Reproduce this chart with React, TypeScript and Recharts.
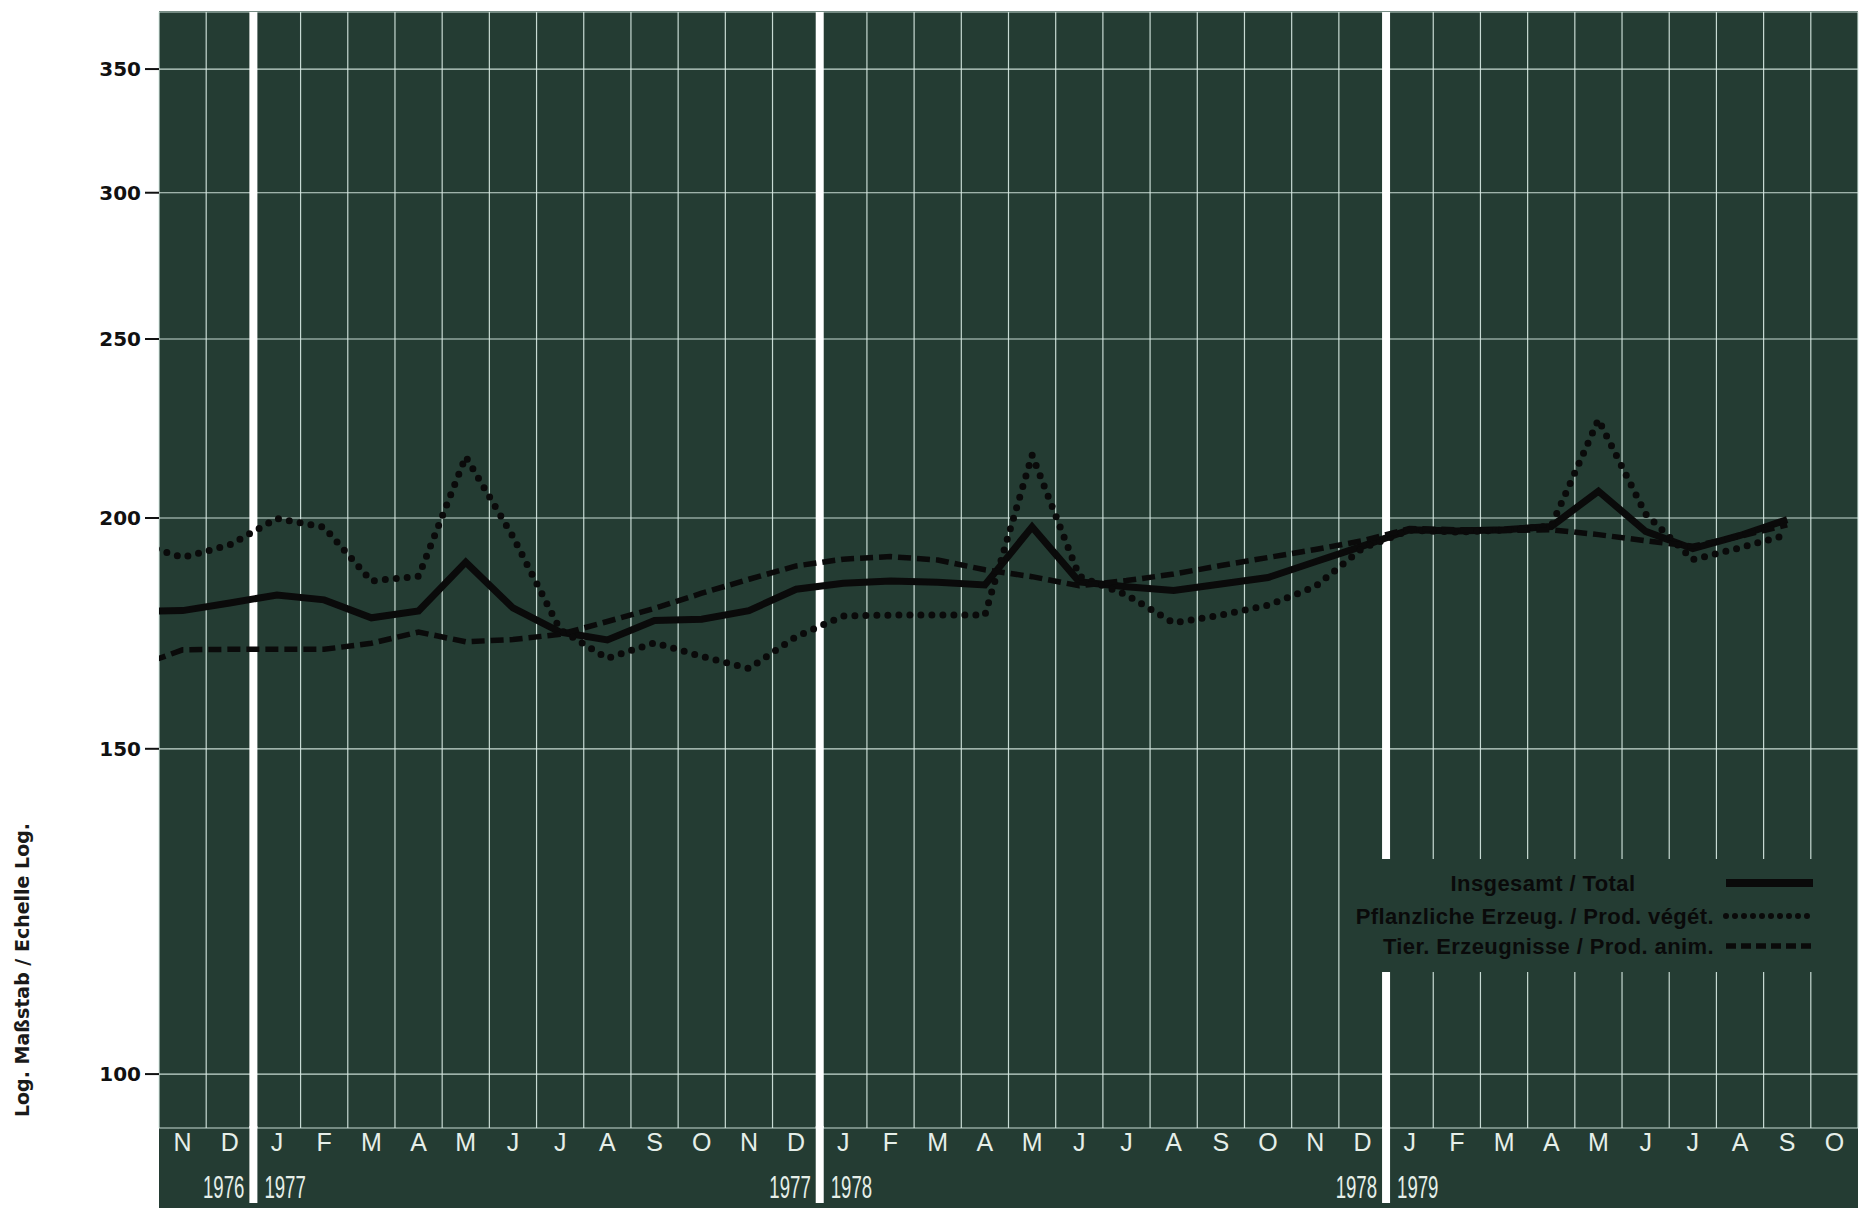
import React from "react"
import { LineChart, Line, XAxis, YAxis, CartesianGrid, ReferenceLine, Legend } from "recharts"

// month bands, Nov 1976 .. Oct 1979
const months = ["N", "D", "J", "F", "M", "A", "M", "J", "J", "A", "S", "O", "N", "D", "J", "F", "M", "A", "M", "J", "J", "A", "S", "O", "N", "D", "J", "F", "M", "A", "M", "J", "J", "A", "S", "O"]
const years = ["1976", "1977", "1978", "1979"]
const yearBreaks = [2, 14, 26]
const yTicks = [100, 150, 200, 250, 300, 350]

// first value = Oct 1976 (only the tail is visible at the left edge), then Nov 1976 .. Sep 1979
const total = [178, 178.2, 179.9, 181.7, 180.6, 176.6, 178.1, 189.3, 178.8, 173.5, 171.8, 176.0, 176.3, 178.2, 183.0, 184.4, 184.9, 184.6, 184.0, 197.8, 184.7, 183.6, 182.7, 184.2, 185.7, 189.4, 193.1, 197.1, 196.8, 197.1, 197.9, 206.8, 196.7, 192.5, 195.7, 199.6]
const plant = [194, 190.4, 193.4, 199.9, 197.7, 184.9, 186.0, 215.9, 195.4, 174.0, 167.9, 171.2, 168.3, 165.8, 172.5, 177.0, 177.2, 177.2, 177.2, 216.3, 186.0, 181.7, 175.5, 177.2, 179.4, 183.6, 192.6, 197.0, 196.5, 197.0, 198.0, 226.1, 201.0, 189.9, 192.7, 195.9]
const animal = [166.1, 169.7, 169.8, 169.8, 169.8, 171.1, 173.5, 171.4, 171.9, 173.0, 175.8, 178.7, 182.1, 185.3, 188.4, 190.0, 190.6, 189.8, 187.5, 185.9, 183.8, 185.0, 186.5, 188.5, 190.4, 192.3, 194.4, 197.4, 197.1, 196.9, 197.1, 195.9, 194.4, 193.1, 195.5, 198.3]

const data = total.map((v, i) => ({ x: i - 0.5, total: v, plant: plant[i], animal: animal[i] }))

const series = [
  { key: "total", name: "Insgesamt / Total", width: 7, dash: undefined as string | undefined, cap: "butt" },
  { key: "plant", name: "Pflanzliche Erzeug. / Prod. végét.", width: 7, dash: "0 11", cap: "round" },
  { key: "animal", name: "Tier. Erzeugnisse / Prod. anim.", width: 5.5, dash: "13 6", cap: "butt" },
]

const BG = "#243c33"
const GRID = "#d9ebe4"
const LABEL = "#e6efe9"
const gridTicks = Array.from({ length: 35 }, (_, i) => i + 1)
const labelTicks = months.map((_, i) => i + 0.5).concat(yearBreaks).sort((a, b) => a - b)
const sans = "'Liberation Sans', Arial, sans-serif"

function MonthTick({ x, y, payload }: any) {
  const v = payload.value
  const b = yearBreaks.indexOf(v)
  if (b >= 0) {
    // condensed year numbers either side of the white year divider
    return (
      <g>
        <rect x={x - 4} y={y - 2} width={8} height={77} fill="#ffffff" />
        <text transform={`translate(${x - 9} ${y + 70}) scale(0.6 1)`} textAnchor="end" fill={LABEL} fontSize={31}
          fontFamily={sans}>{years[b]}</text>
        <text transform={`translate(${x + 11} ${y + 70}) scale(0.6 1)`} textAnchor="start" fill={LABEL} fontSize={31}
          fontFamily={sans}>{years[b + 1]}</text>
      </g>
    )
  }
  return (
    <text x={x} y={y + 23} textAnchor="middle" fill={LABEL} fontSize={25} fontFamily={sans}>
      {months[Math.round(v - 0.5)]}
    </text>
  )
}

function ScaleTitle({ viewBox }: any) {
  const cx = viewBox.x + 22
  const cy = viewBox.y + 958
  return (
    <text x={cx} y={cy} transform={`rotate(-90 ${cx} ${cy})`} textAnchor="middle" dominantBaseline="central"
      fill="#1a1a1a" fontSize={19} fontWeight="bold" fontFamily="'DejaVu Sans', sans-serif">
      Log. Maßstab / Echelle Log.
    </text>
  )
}

function LegendBox() {
  const rows = [
    { x: 163, y: 24, anchor: "middle" },
    { x: 334, y: 57, anchor: "end" },
    { x: 334, y: 87, anchor: "end" },
  ]
  return (
    <svg width={474} height={113} style={{ overflow: "visible", display: "block" }}>
      {series.map((s, i) => (
        <g key={s.key}>
          <text x={rows[i].x} y={rows[i].y} textAnchor={rows[i].anchor as any} dominantBaseline="central" fill="#0a0a0a"
            fontSize={22} fontWeight="bold" letterSpacing={0.4} fontFamily={sans}>
            {s.name}
          </text>
          <line x1={346} x2={433} y1={rows[i].y} y2={rows[i].y} stroke="#0a0a0a" strokeWidth={i === 0 ? 8 : i === 1 ? 6 : 5.5}
            strokeDasharray={i === 1 ? "0 9" : i === 2 ? "10 5" : undefined} strokeLinecap={s.cap as any} />
        </g>
      ))}
    </svg>
  )
}

export default function App() {
  return (
    <div style={{ position: "absolute", left: 0, top: 0, width: 1865, height: 1211, background: "#fff" }}>
      <div style={{ position: "absolute", left: 159, top: 11, width: 1699, height: 1197, background: BG }} />
      <LineChart width={1865} height={1211} data={data} margin={{ top: 12, right: 7, bottom: 0, left: 0 }}>
        <XAxis xAxisId="m" type="number" dataKey="x" domain={[0, 36]} ticks={gridTicks} allowDataOverflow hide />
        <XAxis xAxisId="lbl" type="number" dataKey="x" domain={[0, 36]} ticks={labelTicks} allowDataOverflow interval={0}
          height={83} tickSize={0} tickMargin={0} axisLine={false} tickLine={false} tick={<MonthTick />} />
        <YAxis yAxisId="v" type="number" scale="log" domain={[93.5, 375.8]} ticks={yTicks} allowDataOverflow width={159}
          tickSize={14} tickMargin={4} axisLine={false} tickLine={{ stroke: "#111", strokeWidth: 2 }}
          tick={{ fill: "#111", fontSize: 20, fontWeight: "bold", fontFamily: "'DejaVu Sans', sans-serif" }}
          label={<ScaleTitle />} />
        <CartesianGrid xAxisId="m" yAxisId="v" stroke={GRID} strokeWidth={1.2} strokeOpacity={0.9} />
        {yearBreaks.map((b) => (
          <ReferenceLine key={b} xAxisId="m" yAxisId="v" x={b} stroke="#ffffff" strokeWidth={8} />
        ))}
        {series.map((s) => (
          <Line key={s.key} xAxisId="m" yAxisId="v" type="linear" dataKey={s.key} name={s.name} stroke="#0a0a0a"
            strokeWidth={s.width} strokeDasharray={s.dash} strokeLinecap={s.cap as any} strokeLinejoin="miter"
            dot={false} activeDot={false} isAnimationActive={false} />
        ))}
        <Legend layout="vertical" align="center" verticalAlign="middle" content={<LegendBox />}
          wrapperStyle={{ left: 1380, top: 859, width: 474, height: 113, background: BG }} />
      </LineChart>
    </div>
  )
}
